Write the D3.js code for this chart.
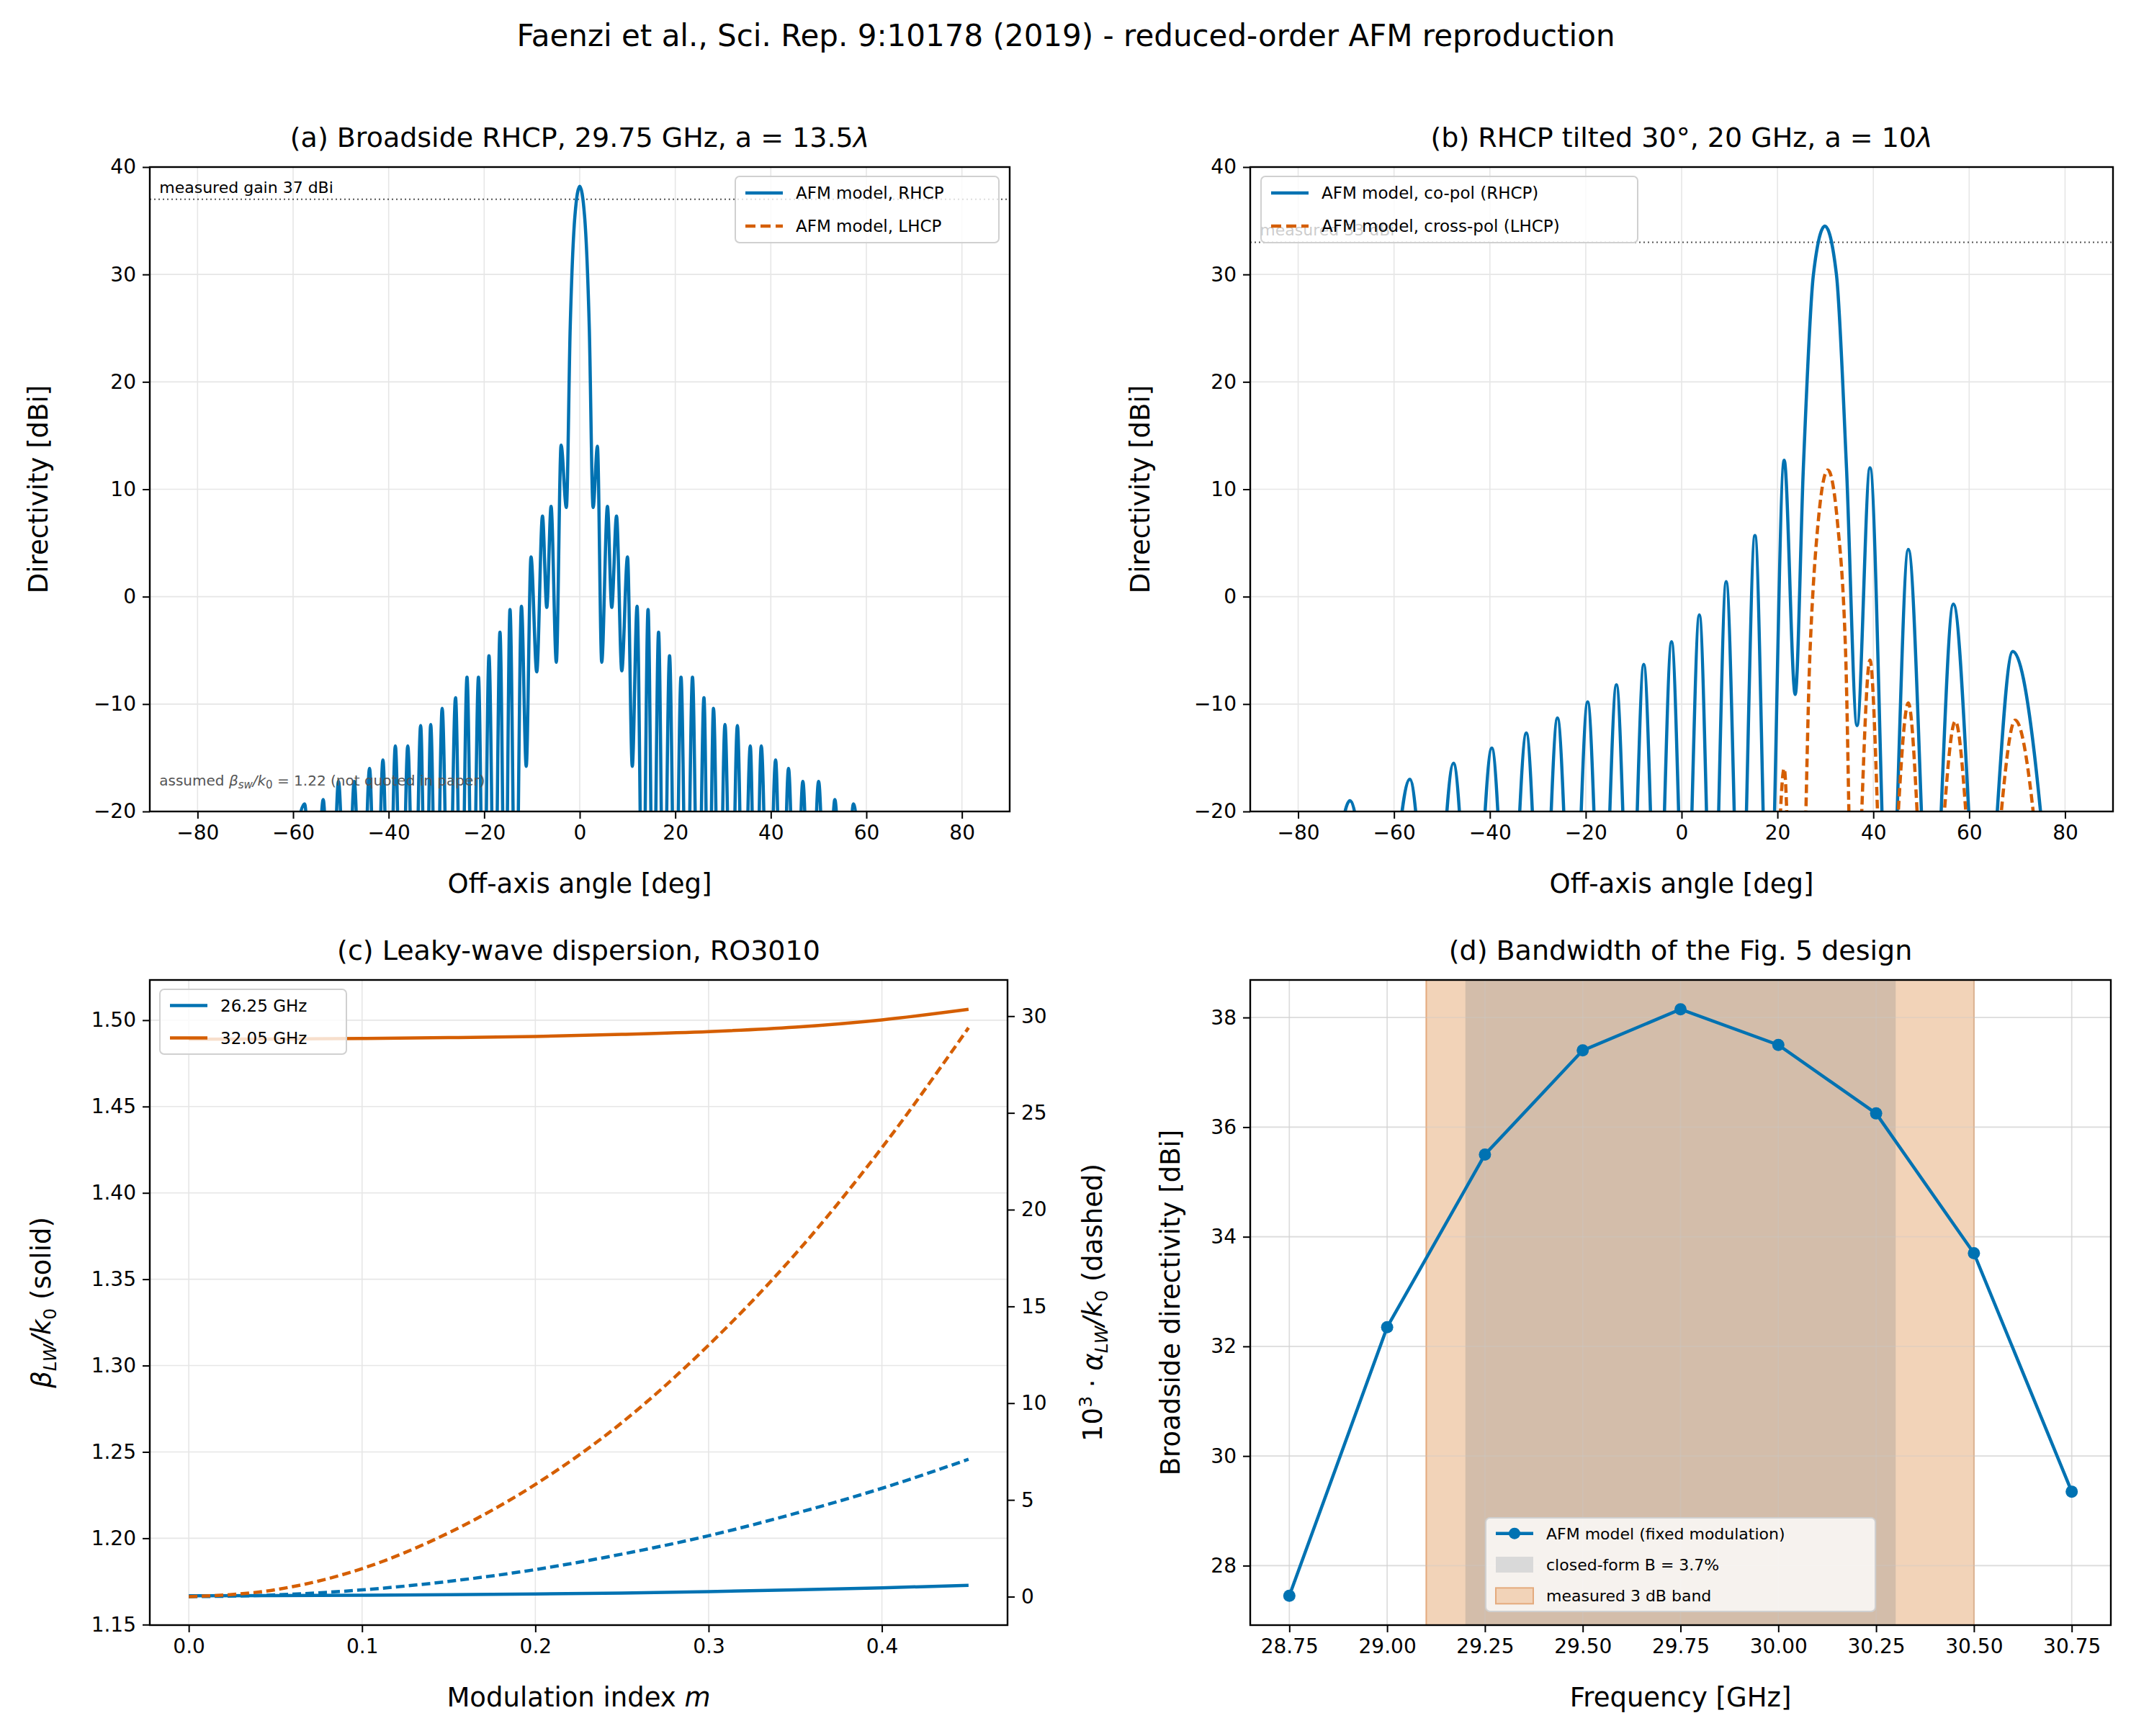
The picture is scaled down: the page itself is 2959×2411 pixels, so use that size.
<!DOCTYPE html>
<html><head><meta charset="utf-8">
<script src="https://cdn.jsdelivr.net/npm/d3@7"></script>
<style>body{margin:0;background:#fff}text{font-family:"DejaVu Sans",sans-serif}</style>
</head><body>
<svg id="c" width="2959" height="2411"></svg>
<script>
// ---------- data ----------
const aRhcp = [[-62,-35],[-57.6,-19.3],[-55.6,-35],[-53.7,-18.9],[-52.1,-35],[-50.5,-17.2],[-48.8,-35],[-47.2,-17.2],[-45.6,-35],[-44,-16],[-42.6,-35],[-41.2,-15.2],[-39.9,-35],[-38.6,-13.9],[-37.3,-35],[-36,-13.9],[-34.6,-35],[-33.3,-12],[-32.2,-35],[-31.2,-11.9],[-30,-35],[-28.8,-10.4],[-27.4,-35],[-26,-9.4],[-24.8,-35],[-23.6,-7.5],[-22.4,-35],[-21.2,-7.5],[-20.1,-35],[-19,-5.5],[-17.8,-35],[-16.7,-3.3],[-15.6,-35],[-14.6,-1.2],[-13.4,-35],[-12.2,-0.9],[-11.2,-15.8],[-10.2,3.7],[-9,-7],[-7.8,7.5],[-6.9,-1],[-6,8.4],[-4.9,-6.1],[-3.9,14.1],[-2.8,8.3],[-2,25],[-1,35.5],[0,38.2],[1,35.5],[2,25],[2.8,8.3],[3.7,14],[4.6,-6.1],[5.8,8.4],[6.7,-1],[7.7,7.5],[8.8,-6.9],[10,3.7],[11,-15.8],[12,-0.9],[13.2,-35],[14.3,-1.2],[15.4,-35],[16.5,-3.3],[17.6,-35],[18.8,-5.5],[20,-35],[21.2,-7.5],[22.4,-35],[23.6,-7.5],[24.8,-35],[26,-9.4],[27,-35],[28,-10.4],[29.2,-35],[30.4,-11.9],[31.7,-35],[33,-12],[34.3,-35],[35.7,-13.9],[36.8,-35],[38,-13.9],[39.5,-35],[41,-15.2],[42.3,-35],[43.7,-16],[45.2,-35],[46.7,-17.2],[48.3,-35],[50,-17.2],[51.7,-35],[53.4,-18.9],[55.3,-35],[57.3,-19.3],[59.5,-35]];
const bCopol = [[-74,-35],[-69.2,-19],[-63,-35],[-56.7,-17],[-52,-35],[-47.6,-15.5],[-43.6,-35],[-39.6,-14.1],[-36,-35],[-32.4,-12.7],[-29.1,-35],[-25.9,-11.3],[-22.7,-35],[-19.6,-9.8],[-16.6,-35],[-13.6,-8.2],[-10.7,-35],[-7.9,-6.3],[-5,-35],[-2.1,-4.2],[0.8,-35],[3.7,-1.7],[6.5,-35],[9.3,1.4],[12.3,-35],[15.3,5.7],[18.2,-35],[21.4,12.7],[23.7,-9.1],[25.4,12],[27.5,30],[29.9,34.5],[32.3,30],[34.4,12],[36.6,-12],[39.3,12],[43.3,-35],[47.3,4.4],[52,-35],[56.7,-0.7],[62.6,-35],[69.1,-5.1],[78,-35]];
const bCross = [[19.5,-35],[21.4,-16],[23.2,-35],[24.8,-35],[26.8,-5],[28.5,7],[30.5,11.8],[32.5,7],[34.2,-5],[35.8,-35],[39.3,-5.9],[42.5,-35],[47.3,-9.9],[51.5,-35],[57.1,-11.6],[62.5,-35],[69.6,-11.5],[76.5,-35]];
const mIdx = [0,0.05,0.1,0.15,0.2,0.25,0.3,0.35,0.4,0.45];
const beta26 = [1.1667,1.1668,1.1670,1.1673,1.1677,1.1683,1.1691,1.1701,1.1713,1.1727];
const beta32 = [1.4890,1.4891,1.4894,1.4899,1.4906,1.4918,1.4934,1.4960,1.5002,1.5063];
const alpha26 = [0,0.09,0.35,0.79,1.4,2.2,3.15,4.3,5.6,7.1];
const alpha32 = [0,0.36,1.45,3.3,5.8,9.0,13.0,17.7,23.2,29.4];
const freq = [28.75,29.0,29.25,29.5,29.75,30.0,30.25,30.5,30.75];
const dirBS = [27.45,32.35,35.5,37.4,38.15,37.5,36.25,33.7,29.35];
const bandMeasured = [29.1,30.5];
const bandClosed = [29.2,30.3];
const angTicks = [-80,-60,-40,-20,0,20,40,60,80];
const dbTicks = [-20,-10,0,10,20,30,40];

const BLUE="#0072B2", ORANGE="#D55E00", LW=4.5, TF=28;
const svg = d3.select("#c");
const fmt = d => String(d).replace("-","\u2212");

svg.append("text").attr("x",1480).attr("y",64).attr("text-anchor","middle").attr("font-size",42).text("Faenzi et al., Sci. Rep. 9:10178 (2019) - reduced-order AFM reproduction");

let clipId=0;
function panel(L,R,T,B,xs,ys,xt,yt,xfmt,yfmt){
  const g = svg.append("g");
  const id="clip"+(clipId++);
  svg.append("clipPath").attr("id",id).append("rect").attr("x",L).attr("y",T).attr("width",R-L).attr("height",B-T);
  xt.forEach(t=>g.append("line").attr("x1",xs(t)).attr("x2",xs(t)).attr("y1",T).attr("y2",B).attr("stroke","#e6e6e6").attr("stroke-width",1.6));
  yt.forEach(t=>g.append("line").attr("y1",ys(t)).attr("y2",ys(t)).attr("x1",L).attr("x2",R).attr("stroke","#e6e6e6").attr("stroke-width",1.6));
  const ax = g.append("g").attr("transform",`translate(0,${B})`).call(d3.axisBottom(xs).tickValues(xt).tickFormat(xfmt).tickSize(10).tickPadding(9));
  const ay = g.append("g").attr("transform",`translate(${L},0)`).call(d3.axisLeft(ys).tickValues(yt).tickFormat(yfmt).tickSize(10).tickPadding(9));
  [ax,ay].forEach(a=>{a.select(".domain").remove();a.selectAll("line").attr("stroke-width",2);a.selectAll("text").attr("font-size",TF).attr("font-family","DejaVu Sans");});
  const plot = svg.append("g").attr("clip-path",`url(#${id})`);
  return {g,plot,frame:()=>svg.append("rect").attr("x",L).attr("y",T).attr("width",R-L).attr("height",B-T).attr("fill","none").attr("stroke","#000").attr("stroke-width",2.4)};
}
function legend(x,y,w,h,items,fs){
  const g=svg.append("g");
  g.append("rect").attr("x",x).attr("y",y).attr("width",w).attr("height",h).attr("rx",6).attr("fill","rgba(255,255,255,0.8)").attr("stroke","#d0d0d0").attr("stroke-width",2);
  items.forEach((it,i)=>{
    const cy=y+h/(items.length)*(i+0.5);
    if(it.type==="line"){
      g.append("line").attr("x1",x+14).attr("x2",x+66).attr("y1",cy).attr("y2",cy).attr("stroke",it.color).attr("stroke-width",LW).attr("stroke-dasharray",it.dash||null);
      if(it.marker) g.append("circle").attr("cx",x+40).attr("cy",cy).attr("r",8).attr("fill",it.color);
    } else {
      g.append("rect").attr("x",x+14).attr("y",cy-11).attr("width",52).attr("height",22).attr("fill",it.color).attr("stroke",it.stroke||"none").attr("stroke-width",2);
    }
    g.append("text").attr("x",x+84).attr("y",cy+8).attr("font-size",fs).text(it.label);
  });
}
function ylabel(x,y,txt){return svg.append("text").attr("transform",`translate(${x},${y}) rotate(-90)`).attr("text-anchor","middle").attr("font-size",37).text(txt);}
function xlabel(x,y){return svg.append("text").attr("x",x).attr("y",y).attr("text-anchor","middle").attr("font-size",37);}
function title(x,y,t){return svg.append("text").attr("x",x).attr("y",y).attr("text-anchor","middle").attr("font-size",38).text(t);}

// ---------- (a) ----------
{
  const L=208,R=1402,T=232,B=1127;
  const xs=d3.scaleLinear().domain([-90,90]).range([L,R]);
  const ys=d3.scaleLinear().domain([-20,40]).range([B,T]);
  const p=panel(L,R,T,B,xs,ys,angTicks,dbTicks,fmt,fmt);
  p.plot.append("line").attr("x1",L).attr("x2",R).attr("y1",ys(37)).attr("y2",ys(37)).attr("stroke","#555").attr("stroke-width",2).attr("stroke-dasharray","2,4");
  p.plot.append("path").datum(aRhcp).attr("fill","none").attr("stroke",BLUE).attr("stroke-width",LW)
    .attr("d",d3.line().x(d=>xs(d[0])).y(d=>ys(d[1])).curve(d3.curveMonotoneX));
  svg.append("text").attr("x",xs(-88)).attr("y",ys(37.6)).attr("font-size",22).text("measured gain 37 dBi");
  const an=svg.append("text").attr("x",xs(-88)).attr("y",ys(-17.6)).attr("font-size",20).attr("fill","#555");
  an.append("tspan").text("assumed ");
  an.append("tspan").attr("font-style","italic").text("β");
  an.append("tspan").attr("font-size",15).attr("dy",4).attr("font-style","italic").text("sw");
  an.append("tspan").attr("dy",-4).attr("font-style","italic").text("/k");
  an.append("tspan").attr("font-size",15).attr("dy",4).text("0");
  an.append("tspan").attr("dy",-4).text(" = 1.22 (not quoted in paper)");
  p.frame();
  legend(1021,245,366,92,[{type:"line",color:BLUE,label:"AFM model, RHCP"},{type:"line",color:ORANGE,dash:"14,7",label:"AFM model, LHCP"}],23);
  const t=title((L+R)/2,204,"");
  t.text("(a) Broadside RHCP, 29.75 GHz, a = 13.5");t.append("tspan").attr("font-style","italic").text("λ");
  xlabel((L+R)/2,1240).text("Off-axis angle [deg]");
  ylabel(66,(T+B)/2,"Directivity [dBi]");
}
// ---------- (b) ----------
{
  const L=1736,R=2934,T=232,B=1127;
  const xs=d3.scaleLinear().domain([-90,90]).range([L,R]);
  const ys=d3.scaleLinear().domain([-20,40]).range([B,T]);
  const p=panel(L,R,T,B,xs,ys,angTicks,dbTicks,fmt,fmt);
  p.plot.append("line").attr("x1",L).attr("x2",R).attr("y1",ys(33)).attr("y2",ys(33)).attr("stroke","#555").attr("stroke-width",2).attr("stroke-dasharray","2,4");
  svg.append("text").attr("x",xs(-88)).attr("y",ys(33.6)).attr("font-size",22).text("measured 33 dBi");
  const ln=d3.line().x(d=>xs(d[0])).y(d=>ys(d[1])).curve(d3.curveMonotoneX);
  p.plot.append("path").datum(bCopol).attr("fill","none").attr("stroke",BLUE).attr("stroke-width",LW).attr("d",ln);
  p.plot.append("path").datum(bCross).attr("fill","none").attr("stroke",ORANGE).attr("stroke-width",LW).attr("stroke-dasharray","12,6").attr("d",ln);
  p.frame();
  legend(1751,245,523,92,[{type:"line",color:BLUE,label:"AFM model, co-pol (RHCP)"},{type:"line",color:ORANGE,dash:"14,7",label:"AFM model, cross-pol (LHCP)"}],23);
  title((L+R)/2,204,"(b) RHCP tilted 30\u00B0, 20 GHz, a = 10").append("tspan").attr("font-style","italic").text("λ");
  xlabel((L+R)/2,1240).text("Off-axis angle [deg]");
  ylabel(1596,(T+B)/2,"Directivity [dBi]");
}
// ---------- (c) ----------
{
  const L=208,R=1399,T=1361,B=2257;
  const xs=d3.scaleLinear().domain([-0.0225,0.4725]).range([L,R]);
  const ys=d3.scaleLinear().domain([1.1497,1.5233]).range([B,T]);
  const ys2=d3.scaleLinear().domain([-1.47,31.87]).range([B,T]);
  const p=panel(L,R,T,B,xs,ys,[0,0.1,0.2,0.3,0.4],[1.15,1.2,1.25,1.3,1.35,1.4,1.45,1.5],d3.format(".1f"),d3.format(".2f"));
  const ar=svg.append("g").attr("transform",`translate(${R},0)`).call(d3.axisRight(ys2).tickValues([0,5,10,15,20,25,30]).tickSize(10).tickPadding(9));
  ar.select(".domain").remove();ar.selectAll("line").attr("stroke-width",2);ar.selectAll("text").attr("font-size",TF).attr("font-family","DejaVu Sans");
  const mk=(vals,sc)=>d3.line().x((d,i)=>xs(mIdx[i])).y(d=>sc(d)).curve(d3.curveMonotoneX)(vals);
  p.plot.append("path").attr("d",mk(beta26,ys)).attr("fill","none").attr("stroke",BLUE).attr("stroke-width",LW);
  p.plot.append("path").attr("d",mk(beta32,ys)).attr("fill","none").attr("stroke",ORANGE).attr("stroke-width",LW);
  p.plot.append("path").attr("d",mk(alpha26,ys2)).attr("fill","none").attr("stroke",BLUE).attr("stroke-width",LW).attr("stroke-dasharray","12,6");
  p.plot.append("path").attr("d",mk(alpha32,ys2)).attr("fill","none").attr("stroke",ORANGE).attr("stroke-width",LW).attr("stroke-dasharray","12,6");
  p.frame();
  legend(222,1374,259,90,[{type:"line",color:BLUE,label:"26.25 GHz"},{type:"line",color:ORANGE,label:"32.05 GHz"}],23);
  title((L+R)/2,1333,"(c) Leaky-wave dispersion, RO3010");
  const xl=xlabel((L+R)/2,2370);xl.text("Modulation index ");xl.append("tspan").attr("font-style","italic").text("m");
  const yl=svg.append("text").attr("transform",`translate(70,${(T+B)/2}) rotate(-90)`).attr("text-anchor","middle").attr("font-size",37);
  yl.append("tspan").attr("font-style","italic").text("β");yl.append("tspan").attr("font-size",25).attr("dy",8).attr("font-style","italic").text("LW");
  yl.append("tspan").attr("dy",-8).attr("font-style","italic").text("/k");yl.append("tspan").attr("font-size",25).attr("dy",8).text("0");
  yl.append("tspan").attr("dy",-8).text(" (solid)");
  const yr=svg.append("text").attr("transform",`translate(1530,${(T+B)/2}) rotate(-90)`).attr("text-anchor","middle").attr("font-size",37);
  yr.append("tspan").text("10");yr.append("tspan").attr("font-size",25).attr("dy",-14).text("3");
  yr.append("tspan").attr("dy",14).text(" \u00B7 ");yr.append("tspan").attr("font-style","italic").text("α");
  yr.append("tspan").attr("font-size",25).attr("dy",8).attr("font-style","italic").text("LW");
  yr.append("tspan").attr("dy",-8).attr("font-style","italic").text("/k");yr.append("tspan").attr("font-size",25).attr("dy",8).text("0");
  yr.append("tspan").attr("dy",-8).text(" (dashed)");
}
// ---------- (d) ----------
{
  const L=1736,R=2931,T=1361,B=2257;
  const xs=d3.scaleLinear().domain([28.65,30.85]).range([L,R]);
  const ys=d3.scaleLinear().domain([26.915,38.685]).range([B,T]);
  const yt=[28,30,32,34,36,38];
  const p=panel(L,R,T,B,xs,ys,freq,yt,d3.format(".2f"),d3.format("d"));
  p.plot.append("rect").attr("x",xs(bandMeasured[0])).attr("width",xs(bandMeasured[1])-xs(bandMeasured[0])).attr("y",T).attr("height",B-T).attr("fill","rgb(242,211,184)").attr("stroke","rgb(228,170,125)").attr("stroke-width",2);
  p.plot.append("rect").attr("x",xs(bandClosed[0])).attr("width",xs(bandClosed[1])-xs(bandClosed[0])).attr("y",T).attr("height",B-T).attr("fill","rgba(140,140,140,0.3)");
  freq.forEach(t=>p.plot.append("line").attr("x1",xs(t)).attr("x2",xs(t)).attr("y1",T).attr("y2",B).attr("stroke","rgba(200,200,200,0.35)").attr("stroke-width",1.6));
  yt.forEach(t=>p.plot.append("line").attr("y1",ys(t)).attr("y2",ys(t)).attr("x1",L).attr("x2",R).attr("stroke","rgba(200,200,200,0.35)").attr("stroke-width",1.6));
  p.plot.append("path").datum(dirBS).attr("fill","none").attr("stroke",BLUE).attr("stroke-width",LW).attr("d",d3.line().x((d,i)=>xs(freq[i])).y(d=>ys(d)));
  p.plot.selectAll("circle.pt").data(dirBS).enter().append("circle").attr("cx",(d,i)=>xs(freq[i])).attr("cy",d=>ys(d)).attr("r",8.5).attr("fill",BLUE);
  p.frame();
  legend(2063,2108,541,130,[{type:"line",color:BLUE,marker:true,label:"AFM model (fixed modulation)"},{type:"rect",color:"#d9d9d9",label:"closed-form B = 3.7%"},{type:"rect",color:"rgb(242,211,184)",stroke:"rgb(228,170,125)",label:"measured 3 dB band"}],22);
  title((L+R)/2,1333,"(d) Bandwidth of the Fig. 5 design");
  xlabel((L+R)/2,2370).text("Frequency [GHz]");
  ylabel(1638,(T+B)/2,"Broadside directivity [dBi]");
}
</script></body></html>
